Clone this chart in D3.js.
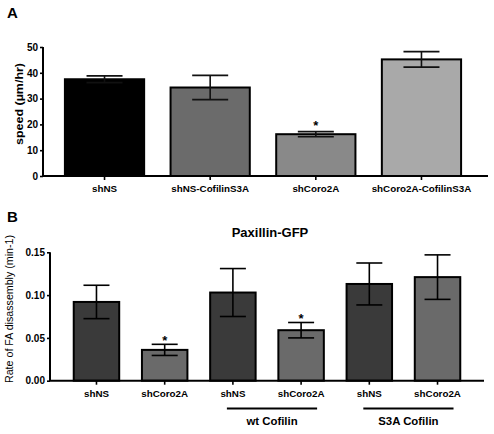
<!DOCTYPE html>
<html><head><meta charset="utf-8">
<script src="https://cdn.jsdelivr.net/npm/d3@7"></script>
<style>
html,body{margin:0;padding:0;background:#fff;}
svg{display:block;font-family:"Liberation Sans",Arial,sans-serif;font-weight:bold;}
</style></head>
<body>
<svg id="c" width="494" height="434"></svg>
<script>
// Panel A data
const catsA = ["shNS", "shNS-CofilinS3A", "shCoro2A", "shCoro2A-CofilinS3A"];
const speedA = [37.5, 34.3, 16.2, 45.2];
const errA = [1.3, 4.7, 1.0, 3.0];
const sigA = [false, false, true, false];
const colorsA = ["#000000", "#6b6b6b", "#898989", "#a9a9a9"];
const ticksA = [0, 10, 20, 30, 40, 50];

// Panel B data
const catsB = ["shNS", "shCoro2A", "shNS", "shCoro2A", "shNS", "shCoro2A"];
const rateB = [0.092, 0.036, 0.103, 0.059, 0.113, 0.121];
const errB = [0.0195, 0.0065, 0.028, 0.009, 0.0245, 0.026];
const sigB = [false, true, false, true, false, false];
const colorsB = ["#3a3a3a", "#6a6a6a", "#3a3a3a", "#6a6a6a", "#3a3a3a", "#6a6a6a"];
const ticksB = [0, 0.05, 0.10, 0.15];
const groupLabels = ["wt Cofilin", "S3A Cofilin"];
const groupStart = [2, 4];
const groupEnd = [3, 5];

const svg = d3.select("#c");

// ---------- Panel A ----------
const yA = d3.scaleLinear().domain([0, 50]).range([176, 47]);
const xA = d3.scaleBand().domain(d3.range(catsA.length)).range([38.5, 487.5]).padding(0.25);
const gA = svg.append("g");

gA.selectAll("rect.bar").data(speedA).join("rect")
  .attr("x", (d, i) => xA(i)).attr("width", xA.bandwidth())
  .attr("y", d => yA(d)).attr("height", d => yA(0) - yA(d))
  .attr("fill", (d, i) => colorsA[i]).attr("stroke", "#000").attr("stroke-width", 2);

const capA = 36;
gA.selectAll("g.err").data(speedA).join("g").each(function(d, i) {
  const g = d3.select(this), cx = xA(i) + xA.bandwidth() / 2;
  const t = yA(d + errA[i]), b = yA(d - errA[i]);
  g.append("line").attr("x1", cx).attr("x2", cx).attr("y1", t).attr("y2", b).attr("stroke", "#111").attr("stroke-width", 1.6);
  [t, b].forEach(y => g.append("line").attr("x1", cx - capA / 2).attr("x2", cx + capA / 2)
    .attr("y1", y).attr("y2", y).attr("stroke", "#111").attr("stroke-width", 1.6));
  if (sigA[i]) g.append("text").attr("x", cx).attr("y", t - 1.5).attr("text-anchor", "middle")
    .attr("font-size", 13).text("*");
});

// axes A
const axYA = gA.append("g").attr("transform", "translate(43,0)")
  .call(d3.axisLeft(yA).tickValues(ticksA).tickSize(3).tickPadding(2).tickFormat(d3.format("d")));
axYA.select(".domain").attr("stroke-width", 2).attr("d", `M0,${yA(50)}V${yA(0)}`);
axYA.selectAll(".tick line").attr("stroke-width", 1.6);
axYA.selectAll("text").attr("font-size", 10).attr("font-weight", "bold").attr("fill", "#000");

const axXA = gA.append("g").attr("transform", `translate(0,${yA(0)})`)
  .call(d3.axisBottom(xA).tickSize(4).tickPadding(5).tickFormat(i => catsA[i]));
axXA.select(".domain").attr("stroke-width", 2).attr("d", `M42,0H488`);
axXA.selectAll(".tick line").attr("stroke-width", 1.6);
axXA.selectAll("text").attr("font-size", 9.8).attr("font-weight", "bold").attr("fill", "#000");

gA.append("text").attr("transform", "translate(23,104) rotate(-90)").attr("text-anchor", "middle")
  .attr("font-size", 10.5).attr("fill", "#000").attr("textLength", 82).attr("lengthAdjust", "spacingAndGlyphs")
  .text("speed (\u00b5m/hr)");
gA.append("text").attr("x", 7).attr("y", 18).attr("font-size", 15).text("A");

// ---------- Panel B ----------
const yB = d3.scaleLinear().domain([0, 0.15]).range([380.7, 252.3]);
const xB = d3.scaleBand().domain(d3.range(catsB.length)).range([51, 483]).padding(1 / 3);
const gB = svg.append("g");

gB.selectAll("rect.bar").data(rateB).join("rect")
  .attr("x", (d, i) => xB(i)).attr("width", xB.bandwidth())
  .attr("y", d => yB(d)).attr("height", d => yB(0) - yB(d))
  .attr("fill", (d, i) => colorsB[i]).attr("stroke", "#000").attr("stroke-width", 2);

const capB = 26;
gB.selectAll("g.err").data(rateB).join("g").each(function(d, i) {
  const g = d3.select(this), cx = xB(i) + xB.bandwidth() / 2;
  const t = yB(d + errB[i]), b = yB(d - errB[i]);
  g.append("line").attr("x1", cx).attr("x2", cx).attr("y1", t).attr("y2", b).attr("stroke", "#000").attr("stroke-width", 1.6);
  [t, b].forEach(y => g.append("line").attr("x1", cx - capB / 2).attr("x2", cx + capB / 2)
    .attr("y1", y).attr("y2", y).attr("stroke", "#000").attr("stroke-width", 1.6));
  if (sigB[i]) g.append("text").attr("x", cx).attr("y", t + 0.5).attr("text-anchor", "middle")
    .attr("font-size", 13).text("*");
});

const axYB = gB.append("g").attr("transform", "translate(50,0)")
  .call(d3.axisLeft(yB).tickValues(ticksB).tickSize(3).tickPadding(2).tickFormat(d3.format(".2f")));
axYB.select(".domain").attr("stroke-width", 2).attr("d", `M0,${yB(0.15)}V${yB(0)}`);
axYB.selectAll(".tick line").attr("stroke-width", 1.6);
axYB.selectAll("text").attr("font-size", 10).attr("font-weight", "bold").attr("fill", "#000");

const axXB = gB.append("g").attr("transform", `translate(0,${yB(0)})`)
  .call(d3.axisBottom(xB).tickSize(4).tickPadding(5).tickFormat(i => catsB[i]));
axXB.select(".domain").attr("stroke-width", 2).attr("d", `M49,0H484`);
axXB.selectAll(".tick line").attr("stroke-width", 1.6);
axXB.selectAll("text").attr("font-size", 9.8).attr("font-weight", "bold").attr("fill", "#000");

gB.append("text").attr("transform", "translate(12.5,309) rotate(-90)").attr("text-anchor", "middle")
  .attr("font-size", 11).attr("font-weight", "normal").attr("fill", "#000").attr("textLength", 148).attr("lengthAdjust", "spacingAndGlyphs")
  .text("Rate of  FA disassembly (min-1)");
gB.append("text").attr("x", 7).attr("y", 222).attr("font-size", 15).text("B");

gB.append("text").attr("x", 270).attr("y", 237).attr("text-anchor", "middle")
  .attr("font-size", 13).text("Paxillin-GFP");

groupLabels.forEach((lab, k) => {
  const x1 = xB(groupStart[k]) + xB.bandwidth() / 2 - 6;
  const x2 = xB(groupEnd[k]) + xB.bandwidth() / 2 + 16;
  gB.append("line").attr("x1", x1).attr("x2", x2).attr("y1", 408.5).attr("y2", 408.5)
    .attr("stroke", "#000").attr("stroke-width", 2.2);
  gB.append("text").attr("x", (x1 + x2) / 2).attr("y", 425).attr("text-anchor", "middle")
    .attr("font-size", 11.4).text(lab);
});
</script>
</body></html>
